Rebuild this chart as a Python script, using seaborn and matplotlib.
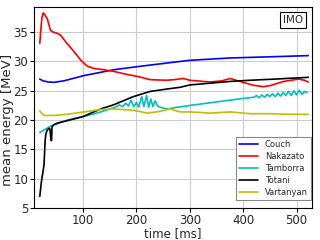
import numpy as np
import pandas as pd
import matplotlib
matplotlib.use('Agg')
import matplotlib.pyplot as plt
import seaborn as sns

# ============================
# DATA
# ============================

couch_t = [19, 25, 35, 46, 64, 102, 158, 200, 263, 300, 376, 450, 522]
couch_e = [27.0, 26.7, 26.5, 26.45, 26.7, 27.6, 28.6, 29.1, 29.8, 30.2, 30.6, 30.8, 31.0]

nakazato_t = [19, 21, 23, 25.5, 28, 33, 39, 46, 52, 58, 67, 83, 96, 108, 121, 139, 158,
              182, 205, 226, 257, 270, 288, 300, 338, 360, 376, 394, 419, 438, 451, 476,
              504, 515, 522]
nakazato_e = [33.1, 35.5, 37.5, 38.3, 38.0, 37.3, 35.3, 34.95, 34.8, 34.5, 33.4, 31.7, 30.2,
              29.2, 28.8, 28.6, 28.3, 27.8, 27.4, 26.9, 26.8, 26.9, 27.1, 26.8, 26.5, 26.7,
              27.1, 26.6, 25.95, 25.7, 25.9, 26.6, 27.0, 26.8, 26.5]

tamborra_t = [19, 40, 70, 100, 130, 160, 168, 174, 180, 185, 190, 195, 200, 204, 210, 214,
              219, 223, 227, 231, 235, 240, 245, 252, 260, 270, 300, 350, 400, 420,
              425, 430, 435, 440, 445, 450, 455, 460, 465, 470, 475, 480, 485, 490, 495,
              500, 505, 510, 515, 520]
tamborra_e = [17.9, 19.0, 20.0, 20.6, 21.3, 22.2, 22.6, 22.3, 22.9, 22.4, 23.4, 22.3, 23.0,
              22.2, 24.0, 22.3, 24.2, 22.2, 23.6, 22.3, 23.3, 22.4, 22.2, 22.0, 21.9, 22.1,
              22.5, 23.1, 23.7, 23.9,
              24.2, 23.8, 24.3, 23.9, 24.4, 24.0, 24.5, 24.0, 24.6, 24.1, 24.7, 24.2, 24.9,
              24.2, 25.0, 24.3, 25.1, 24.4, 24.9, 24.7]

totani_t = [19, 22, 25.5, 27, 29, 30.5, 33, 36, 38, 40, 41, 42, 45, 52, 70, 100, 120, 136,
            157, 194, 226, 257, 282, 300, 338, 376, 413, 460, 522]
totani_e = [7.0, 9.5, 11.5, 12.5, 16.5, 17.7, 18.3, 18.6, 18.5, 16.6, 16.5, 18.9, 19.2, 19.5,
            19.9, 20.6, 21.4, 22.0, 22.6, 24.0, 24.9, 25.3, 25.6, 26.0, 26.3, 26.6, 26.8,
            27.0, 27.3]

vartanyan_t = [19, 23, 27, 35, 46, 70, 102, 132, 157, 175, 191, 205, 219, 238, 255, 263, 270,
               282, 300, 338, 376, 413, 450, 480, 522]
vartanyan_e = [21.6, 21.1, 20.8, 20.8, 20.8, 21.0, 21.4, 21.8, 21.9, 21.8, 21.7, 21.5, 21.2,
               21.4, 21.7, 22.0, 21.7, 21.4, 21.4, 21.2, 21.4, 21.1, 21.1, 21.0, 21.0]

modelos = ['Couch', 'Nakazato', 'Tamborra', 'Totani', 'Vartanyan']
cores = ['b', 'r', 'c', 'k', 'y']

# ============================
# TABELA LONGA
# ============================

partes = []
for nome, t, e in zip(modelos,
                      [couch_t, nakazato_t, tamborra_t, totani_t, vartanyan_t],
                      [couch_e, nakazato_e, tamborra_e, totani_e, vartanyan_e]):
    partes.append(pd.DataFrame({'time': t, 'energy': e, 'model': nome}))
df = pd.concat(partes, ignore_index=True)

# ============================
# GRAFICO
# ============================

sns.set_style('whitegrid', {'axes.edgecolor': 'black', 'grid.color': '#cccccc'})
plt.rcParams['font.family'] = ['DejaVu Sans']

fig, ax = plt.subplots(figsize=(3.2, 2.4), dpi=100)
fig.subplots_adjust(left=0.106, right=0.975, top=0.971, bottom=0.133)

sns.lineplot(
    data=df, x='time', y='energy', hue='model',
    palette=dict(zip(modelos, cores)),
    estimator=None, sort=False, linewidth=1.2, ax=ax
)

ax.set_xlim(8, 529)
ax.set_ylim(5, 39.3)
ax.set_xticks([100, 200, 300, 400, 500])
ax.set_yticks([5, 10, 15, 20, 25, 30, 35])
ax.tick_params(labelsize=8.5, length=3, color='black', left=True, bottom=True, pad=1)
ax.set_xlabel('time [ms]', fontsize=8.5, labelpad=0)
ax.set_ylabel('mean energy [MeV]', fontsize=9.5)
ax.yaxis.set_label_coords(-0.07, 0.44)
for s in ax.spines.values():
    s.set_linewidth(0.8)

ax.text(0.968, 0.96, 'IMO', transform=ax.transAxes, ha='right', va='top', fontsize=7.5,
        bbox=dict(boxstyle='square,pad=0.3', fc='white', ec='black', lw=0.8))

leg = ax.legend(loc='lower right', bbox_to_anchor=(1.0, 0.035), fontsize=6,
                handlelength=2.3, labelspacing=0.35, borderpad=0.4, fancybox=False,
                framealpha=1, edgecolor='#888888', borderaxespad=0.1)
leg.get_frame().set_linewidth(0.8)

plt.savefig('out.png', dpi=100)
